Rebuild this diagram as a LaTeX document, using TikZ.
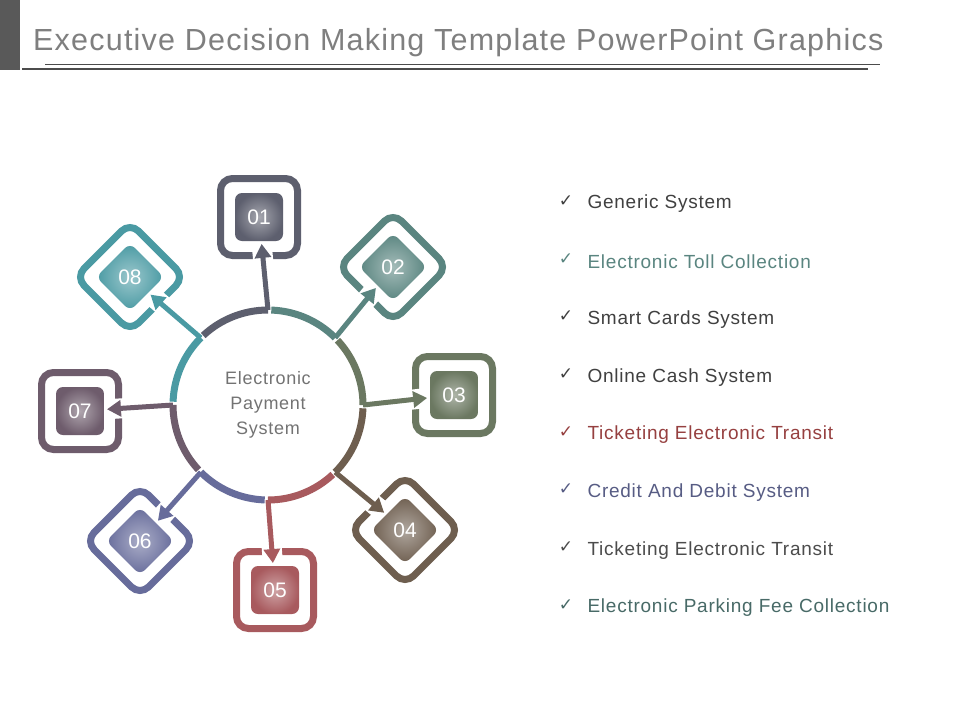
\documentclass[tikz,border=0pt]{standalone}
\usepackage{fontspec}
\setmainfont{Liberation Sans}
\newfontfamily\dejavu{DejaVu Sans}
\newfontfamily\listfont[LetterSpace=4]{Liberation Sans}
\usetikzlibrary{calc,arrows.meta}
\definecolor{cA}{HTML}{5D5F6E}
\definecolor{cB}{HTML}{5A8580}
\definecolor{cC}{HTML}{6B7861}
\definecolor{cD}{HTML}{6E5E4F}
\definecolor{cE}{HTML}{A85A5E}
\definecolor{cF}{HTML}{676C9B}
\definecolor{cG}{HTML}{6E5C6C}
\definecolor{cH}{HTML}{4A9AA3}
\definecolor{titlegray}{HTML}{7F7F7F}
\tikzset{
 frame/.style={draw=#1, line width=7pt, rectangle, rounded corners=12pt, minimum size=77pt, inner sep=0pt},
 core/.style={rectangle, rounded corners=7pt, minimum size=48pt, inner sep=0pt, inner color=#1!55!white, outer color=#1, text=white},
 listitem/.style={anchor=west, font=\listfont\fontsize{19}{21}\selectfont},
}
\begin{document}
\begin{tikzpicture}[x=1pt,y=-1pt]
\useasboundingbox (0,0) rectangle (960,720);
\fill[white] (0,0) rectangle (960,720);
\fill[black!65] (0,0) rectangle (20,70);
\node[anchor=base west, text=titlegray, font=\listfont\fontsize{30.5}{32}\selectfont, inner sep=0pt] (title) at (33,50) {Executive Decision Making Template PowerPoint Graphics};
\draw[black!70, line width=0.8pt] (45,64) -- (880,64);
\draw[black!70, line width=2.5pt] (22,69) -- (868,69);
\coordinate (O) at (268,405);
\node[text=black!55, align=center, font=\listfont\fontsize{18}{25}\selectfont] (ctr) at (O) {Electronic\\Payment\\System};
\foreach \n/\x/\y/\r/\a/\c/\l in {
 b1/259/217/0/90/cA/01, b2/393/267/45/45/cB/02, b3/454/395/0/0/cC/03, b4/405/530/45/-45/cD/04,
 b5/275/590/0/-90/cE/05, b6/140/541/45/-135/cF/06, b7/80/411/0/180/cG/07, b8/130/277/45/135/cH/08}{
 \node[frame=\c, rotate=\r] (\n) at (\x,\y) {};
 \coordinate (p\n) at ($(O)+(\a:95 and -95)$);
 \draw[white, line width=20pt] ($(\n.center)!33pt!(p\n)$) -- ($(\n.center)!50pt!(p\n)$);
 \draw[\c, line width=7pt] ($(O)+(\a+43:95 and -95)$) arc[start angle=-\a-43, end angle=-\a, radius=95];
 \draw[\c, line width=5pt, -{Triangle[length=14pt,width=16pt]}] (p\n) -- ($(\n.center)!27pt!(p\n)$);
 \node[core=\c, rotate=\r] (i\n) at (\x,\y) {};
 \node[text=white, font=\fontsize{21}{23}\selectfont] (t\n) at (\x,\y) {\l};
}
\foreach \i/\t/\c in {0/Generic System/black!75, 1/Electronic Toll Collection/cB, 2/Smart Cards System/black!75, 3/Online Cash System/black!75, 4/Ticketing Electronic Transit/{red!45!black!75}, 5/Credit And Debit System/{cF!85!black}, 6/Ticketing Electronic Transit/black!70, 7/Electronic Parking Fee Collection/{cB!80!black}}{
 \node[text=\c, font=\dejavu\fontsize{17}{19}\selectfont] (k\i) at (566,{201+57.7*\i}) {✓};
 \node[listitem, text=\c] (l\i) at (584,{204+57.7*\i}) {\t};
}
\end{tikzpicture}
\end{document}
